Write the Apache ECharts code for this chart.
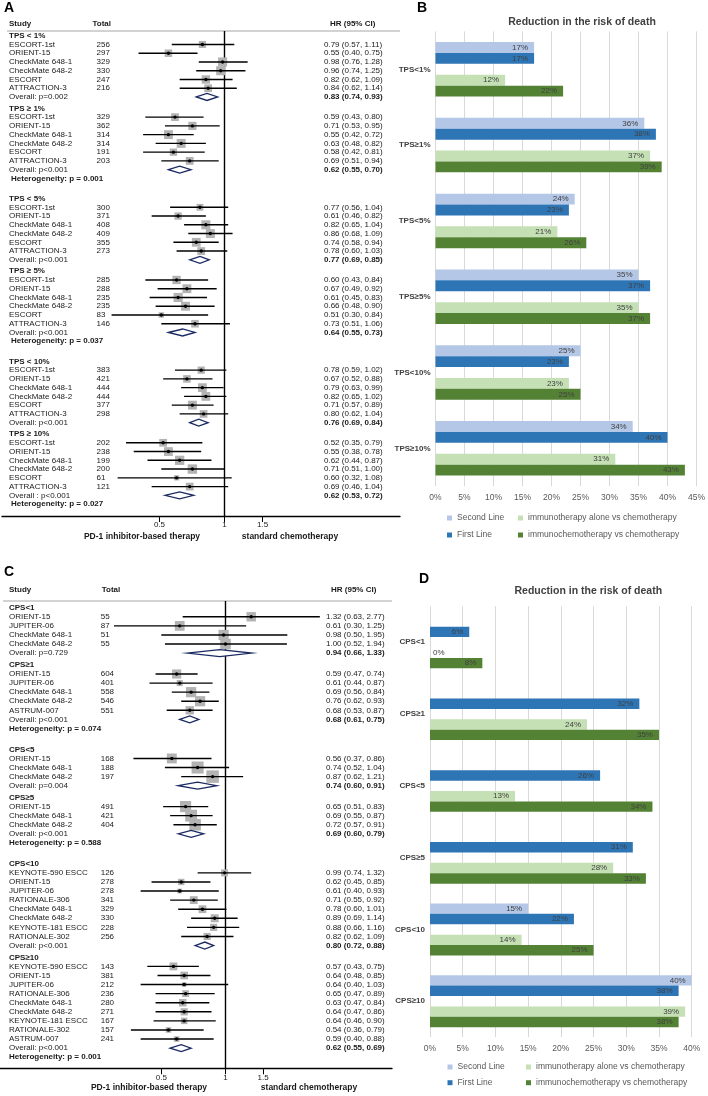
<!DOCTYPE html>
<html><head><meta charset="utf-8">
<script src="https://cdn.jsdelivr.net/npm/echarts@6/dist/echarts.min.js"></script>
<style>html,body{margin:0;padding:0;background:#fff}#c{width:708px;height:1096px}</style>
</head><body><div id="c"></div>
<script>
const FONT = '"Liberation Sans", Arial, sans-serif';

// ===== Panel A (PD-L1 TPS) =====
const aGroups = ['TPS < 1%', 'TPS ≥ 1%', 'TPS < 5%', 'TPS ≥ 5%', 'TPS < 10%', 'TPS ≥ 10%'];
const aNames = ['ESCORT-1st', 'ORIENT-15', 'CheckMate 648-1', 'CheckMate 648-2', 'ESCORT', 'ATTRACTION-3'];
const aTotals = [[256,297,329,330,247,216],[329,362,314,314,191,203],[300,371,408,409,355,273],[285,288,235,235,83,146],[383,421,444,444,377,298],[202,238,199,200,61,121]];
const aHR = [[0.79,0.55,0.98,0.96,0.82,0.84],[0.59,0.71,0.55,0.63,0.58,0.69],[0.77,0.61,0.82,0.86,0.74,0.78],[0.60,0.67,0.61,0.66,0.51,0.73],[0.78,0.67,0.79,0.82,0.71,0.80],[0.52,0.55,0.62,0.71,0.60,0.69]];
const aLo = [[0.57,0.40,0.76,0.74,0.62,0.62],[0.43,0.53,0.42,0.48,0.42,0.51],[0.56,0.46,0.65,0.68,0.58,0.60],[0.43,0.49,0.45,0.48,0.30,0.51],[0.59,0.52,0.63,0.65,0.57,0.62],[0.35,0.38,0.44,0.51,0.32,0.46]];
const aHi = [[1.11,0.75,1.28,1.25,1.09,1.14],[0.80,0.95,0.72,0.82,0.81,0.94],[1.04,0.82,1.04,1.09,0.94,1.03],[0.84,0.92,0.83,0.90,0.84,1.06],[1.02,0.88,0.99,1.02,0.89,1.04],[0.79,0.78,0.87,1.00,1.08,1.04]];
const aOverallHR = [0.83,0.62,0.77,0.64,0.76,0.62];
const aOverallLo = [0.74,0.55,0.69,0.55,0.69,0.53];
const aOverallHi = [0.93,0.70,0.85,0.73,0.84,0.72];
const aOverallP = ['Overall: p=0.002','Overall: p<0.001','Overall: p<0.001','Overall: p<0.001','Overall: p<0.001','Overall : p<0.001'];
const aHet = [null,'0.001',null,'0.037',null,'0.027'];

// ===== Panel C (PD-L1 CPS) =====
const cGroups = ['CPS<1','CPS≥1','CPS<5','CPS≥5','CPS<10','CPS≥10'];
const cNames = [
  ['ORIENT-15','JUPITER-06','CheckMate 648-1','CheckMate 648-2'],
  ['ORIENT-15','JUPITER-06','CheckMate 648-1','CheckMate 648-2','ASTRUM-007'],
  ['ORIENT-15','CheckMate 648-1','CheckMate 648-2'],
  ['ORIENT-15','CheckMate 648-1','CheckMate 648-2'],
  ['KEYNOTE-590 ESCC','ORIENT-15','JUPITER-06','RATIONALE-306','CheckMate 648-1','CheckMate 648-2','KEYNOTE-181 ESCC','RATIONALE-302'],
  ['KEYNOTE-590 ESCC','ORIENT-15','JUPITER-06','RATIONALE-306','CheckMate 648-1','CheckMate 648-2','KEYNOTE-181 ESCC','RATIONALE-302','ASTRUM-007']
];
const cTotals = [[55,87,51,55],[604,401,558,546,551],[168,188,197],[491,421,404],[126,278,278,341,329,330,228,256],[143,381,212,236,280,271,167,157,241]];
const cHR = [[1.32,0.61,0.98,1.00],[0.59,0.61,0.69,0.76,0.68],[0.56,0.74,0.87],[0.65,0.69,0.72],[0.99,0.62,0.61,0.71,0.78,0.89,0.88,0.82],[0.57,0.64,0.64,0.65,0.63,0.64,0.64,0.54,0.59]];
const cLo = [[0.63,0.30,0.50,0.52],[0.47,0.44,0.56,0.62,0.53],[0.37,0.52,0.62],[0.51,0.55,0.57],[0.74,0.45,0.40,0.55,0.60,0.69,0.66,0.62],[0.43,0.48,0.40,0.47,0.47,0.47,0.46,0.36,0.40]];
const cHi = [[2.77,1.25,1.95,1.94],[0.74,0.87,0.84,0.93,0.87],[0.86,1.04,1.21],[0.83,0.87,0.91],[1.32,0.85,0.93,0.92,1.01,1.14,1.16,1.09],[0.75,0.85,1.03,0.89,0.84,0.86,0.90,0.79,0.88]];
const cOverallHR = [0.94,0.68,0.74,0.69,0.80,0.62];
const cOverallLo = [0.66,0.61,0.60,0.60,0.72,0.55];
const cOverallHi = [1.33,0.75,0.91,0.79,0.88,0.69];
const cOverallP = ['Overall: p=0.729','Overall: p<0.001','Overall: p=0.004','Overall: p<0.001','Overall: p<0.001','Overall: p<0.001'];
const cHet = [null,'0.074',null,'0.588',null,'0.001'];

const forestTicks = [0.5, 1, 1.5];
const forestNotes = ['PD-1 inhibitor-based therapy', 'standard chemotherapy'];

// ===== Panel B / D bar charts (reduction in the risk of death, %) =====
const barTitle = 'Reduction in the risk of death';
const barSeriesNames = ['Second Line', 'First Line', 'immunotherapy alone vs chemotherapy', 'immunochemotherapy vs chemotherapy'];
const bCats = ['TPS<1%','TPS≥1%','TPS<5%','TPS≥5%','TPS<10%','TPS≥10%'];
const bSecond = [17,36,24,35,25,34];
const bFirst = [17,38,23,37,23,40];
const bAlone = [12,37,21,35,23,31];
const bCombo = [22,39,26,37,25,43];
const dCats = ['CPS<1','CPS≥1','CPS<5','CPS≥5','CPS<10','CPS≥10'];
const dSecond = [null,null,null,null,15,40];
const dFirst = [6,32,26,31,22,38];
const dAlone = [0,24,13,28,14,39];
const dCombo = [8,35,34,33,25,38];

// ---------- forest helpers ----------
const fmt = v => v.toFixed(2);
function buildRows(groups, names, totals, hr, lo, hi, oHR, oLo, oHi, oP, het) {
  const rows = [{kind: 'frame', y: 0}];
  let y = 0, prev = null;
  groups.forEach((g, gi) => {
    if (gi > 0) y += (prev === 'het' ? 2.3 : 1.3);
    rows.push({kind: 'header', y, text: g});
    const nm = Array.isArray(names[gi]) ? names[gi] : names;
    const w = lo[gi].map((l, i) => { const se = (Math.log(hi[gi][i]) - Math.log(l)) / 3.92; return 1 / (se * se); });
    const ws = w.reduce((a, b) => a + b, 0);
    nm.forEach((s, i) => {
      y += 1;
      rows.push({kind: 'study', y, name: s, total: totals[gi][i], hr: hr[gi][i], lo: lo[gi][i], hi: hi[gi][i], size: 20 * Math.sqrt(w[i] / ws)});
    });
    y += 1;
    rows.push({kind: 'overall', y, text: oP[gi], hr: oHR[gi], lo: oLo[gi], hi: oHi[gi]});
    prev = 'overall';
    if (het[gi]) { y += 1; rows.push({kind: 'het', y, text: 'Heterogeneity: p = ' + het[gi]}); prev = 'het'; }
  });
  return rows;
}
const rowsA = buildRows(aGroups, aNames, aTotals, aHR, aLo, aHi, aOverallHR, aOverallLo, aOverallHi, aOverallP, aHet);
const rowsC = buildRows(cGroups, cNames, cTotals, cHR, cLo, cHi, cOverallHR, cOverallLo, cOverallHi, cOverallP, cHet);

const L_A = {study: 9, total: 96.5, totalHead: 92.5, hr: 324, hrHead: 330, headDy: 7.7, lineStart: 5, het: 11, noteDy: 20.7, noteL: 142, noteR: 290};
const L_C = {study: 9, total: 100.7, totalHead: 101.7, hr: 326, hrHead: 331, headDy: 11, lineStart: 3, het: 9, noteDy: 19.7, noteL: 149, noteR: 309};

function makeRender(rows, L) {
  return function (params, api) {
    const r = rows[api.value(2)];
    const cs = params.coordSys;
    const txt = (text, x, y, opt) => ({type: 'text', silent: true, style: Object.assign({text: String(text), x, y, fill: '#1a1a1a', fontSize: 8, fontFamily: FONT, verticalAlign: 'middle', align: 'left'}, opt || {})});
    const children = [];
    if (r.kind === 'frame') {
      const x1 = api.coord([0, 0])[0];
      children.push({type: 'line', shape: {x1: cs.x + L.lineStart, y1: cs.y, x2: cs.x + cs.width, y2: cs.y}, style: {stroke: '#a6a6a6', lineWidth: 1}});
      children.push({type: 'line', shape: {x1: x1, y1: cs.y, x2: x1, y2: cs.y + cs.height}, style: {stroke: '#000', lineWidth: 1.4}});
      const hy = cs.y - L.headDy;
      children.push(txt('Study', L.study, hy, {fontWeight: 'bold'}));
      children.push(txt('Total', L.totalHead, hy, {fontWeight: 'bold'}));
      children.push(txt('HR (95% CI)', L.hrHead, hy, {fontWeight: 'bold'}));
      const ny = cs.y + cs.height + L.noteDy;
      children.push(txt(forestNotes[0], L.noteL, ny, {fontWeight: 'bold', align: 'center', fontSize: 8.5}));
      children.push(txt(forestNotes[1], L.noteR, ny, {fontWeight: 'bold', align: 'center', fontSize: 8.5}));
      return {type: 'group', children};
    }
    const yp = api.coord([0, r.y])[1];
    const X = v => api.coord([Math.log(v), r.y])[0];
    if (r.kind === 'header') {
      children.push(txt(r.text, L.study, yp, {fontWeight: 'bold'}));
    } else if (r.kind === 'het') {
      children.push(txt(r.text, L.het, yp, {fontWeight: 'bold'}));
    } else if (r.kind === 'study') {
      children.push(txt(r.name, L.study, yp));
      children.push(txt(r.total, L.total, yp));
      children.push(txt(fmt(r.hr) + ' (' + fmt(r.lo) + ', ' + fmt(r.hi) + ')', L.hr, yp));
      const cx = X(r.hr), s = r.size;
      children.push({type: 'rect', shape: {x: cx - s / 2, y: yp - s / 2, width: s, height: s}, style: {fill: '#b3b3b3'}});
      children.push({type: 'line', shape: {x1: X(r.lo), y1: yp, x2: X(r.hi), y2: yp}, style: {stroke: '#000', lineWidth: 1.4}});
      children.push({type: 'circle', shape: {cx: cx, cy: yp, r: 1.7}, style: {fill: '#000'}});
    } else if (r.kind === 'overall') {
      children.push(txt(r.text, L.study, yp));
      children.push(txt(fmt(r.hr) + ' (' + fmt(r.lo) + ', ' + fmt(r.hi) + ')', L.hr, yp, {fontWeight: 'bold'}));
      const h = 3.5;
      children.push({type: 'polygon', shape: {points: [[X(r.lo), yp], [X(r.hr), yp - h], [X(r.hi), yp], [X(r.hr), yp + h]]}, style: {fill: '#fff', stroke: '#1c2a63', lineWidth: 1.3}});
    }
    return {type: 'group', children};
  };
}

function forestXAxis(gi, min, max) {
  return {
    gridIndex: gi, type: 'value', min, max, position: 'bottom',
    axisLine: {show: true, onZero: false, lineStyle: {color: '#000', width: 1.3}},
    axisTick: {show: true, length: 6, customValues: forestTicks.map(Math.log), lineStyle: {color: '#000', width: 1}},
    axisLabel: {show: true, customValues: forestTicks.map(Math.log), formatter: v => String(+Math.exp(v).toFixed(1)), fontSize: 8, color: '#1a1a1a', fontFamily: FONT, margin: 5},
    splitLine: {show: false}
  };
}
function forestYAxis(gi, min, max) {
  return {gridIndex: gi, type: 'value', inverse: true, min, max, show: false, axisLine: {onZero: false}};
}

// ---------- bar helpers ----------
const barColors = ['#b4c7e7', '#2e75b6', '#c5e0b4', '#548235'];
function barSeries(ai, vals, name, color, bw) {
  return {
    type: 'bar', name, xAxisIndex: ai, yAxisIndex: ai, barWidth: bw, barGap: '0%',
    data: vals.map(v => v == null ? '-' : (v === 0 ? {value: 0, label: {position: 'right', distance: 3}} : v)),
    itemStyle: {color},
    label: {show: true, position: 'insideRight', distance: 6, formatter: '{c}%', fontSize: 8, color: '#404040', fontFamily: FONT}
  };
}
function gapSeries(ai, cats, bw) {
  return {type: 'bar', name: 'gap', xAxisIndex: ai, yAxisIndex: ai, barWidth: bw, barGap: '0%', data: cats.map(() => '-'), silent: true};
}
function barXAxis(gi, max) {
  return {
    gridIndex: gi, type: 'value', min: 0, max, interval: 5,
    axisLine: {show: false}, axisTick: {show: false},
    axisLabel: {formatter: '{value}%', fontSize: 8.5, color: '#595959', fontFamily: FONT, margin: 7},
    splitLine: {show: true, lineStyle: {color: '#d9d9d9', width: 1}}
  };
}
function barYAxis(gi, cats) {
  return {
    gridIndex: gi, type: 'category', data: cats, inverse: true,
    axisLine: {show: false}, axisTick: {show: false},
    axisLabel: {fontSize: 8, fontWeight: 'bold', color: '#404040', fontFamily: FONT, margin: 5}
  };
}
function legendOf(items, left, top, gap) {
  return {data: items, orient: 'vertical', left, top, padding: 0, icon: 'rect', itemWidth: 5, itemHeight: 5, itemGap: gap, selectedMode: false,
    textStyle: {fontSize: 8.5, color: '#595959', fontFamily: FONT, lineHeight: 11}};
}

const chart = echarts.init(document.getElementById('c'), null, {renderer: 'canvas', width: 708, height: 1096});
const option = {
  animation: false,
  backgroundColor: '#fff',
  textStyle: {fontFamily: FONT},
  grid: [
    {left: 2, top: 31, width: 398, height: 485},
    {left: 0, top: 601, width: 392, height: 467.3},
    {left: 435.5, top: 31.4, width: 264, height: 454.8},
    {left: 430, top: 606.4, width: 261.7, height: 430.7}
  ],
  xAxis: [
    forestXAxis(0, -2.372, 1.871),
    forestXAxis(1, -2.435, 1.798),
    barXAxis(2, 45),
    barXAxis(3, 40)
  ],
  yAxis: [
    forestYAxis(0, -0.537, 54.86),
    forestYAxis(1, -0.738, 50.72),
    barYAxis(2, bCats),
    barYAxis(3, dCats)
  ],
  legend: [
    legendOf(barSeriesNames.slice(0, 2), 447, 512.5, 6),
    legendOf(barSeriesNames.slice(2, 4), 518, 512.5, 6),
    legendOf(barSeriesNames.slice(0, 2), 447.5, 1061.5, 4.7),
    legendOf(barSeriesNames.slice(2, 4), 526, 1061.5, 4.7)
  ],
  series: [
    {type: 'custom', xAxisIndex: 0, yAxisIndex: 0, clip: false, renderItem: makeRender(rowsA, L_A), data: rowsA.map((r, i) => [0, r.y, i])},
    {type: 'custom', xAxisIndex: 1, yAxisIndex: 1, clip: false, renderItem: makeRender(rowsC, L_C), data: rowsC.map((r, i) => [0, r.y, i])},
    barSeries(2, bSecond, barSeriesNames[0], barColors[0], 10.9),
    barSeries(2, bFirst, barSeriesNames[1], barColors[1], 10.9),
    gapSeries(2, bCats, 10.9),
    barSeries(2, bAlone, barSeriesNames[2], barColors[2], 10.9),
    barSeries(2, bCombo, barSeriesNames[3], barColors[3], 10.9),
    barSeries(3, dSecond, barSeriesNames[0], barColors[0], 10.4),
    barSeries(3, dFirst, barSeriesNames[1], barColors[1], 10.4),
    gapSeries(3, dCats, 10.4),
    barSeries(3, dAlone, barSeriesNames[2], barColors[2], 10.4),
    barSeries(3, dCombo, barSeriesNames[3], barColors[3], 10.4)
  ],
  graphic: [
    {type: 'text', x: 4, y: 8, style: {text: 'A', fontSize: 14, fontWeight: 'bold', fill: '#000', fontFamily: FONT, verticalAlign: 'middle'}},
    {type: 'text', x: 417, y: 8, style: {text: 'B', fontSize: 14, fontWeight: 'bold', fill: '#000', fontFamily: FONT, verticalAlign: 'middle'}},
    {type: 'text', x: 4, y: 572, style: {text: 'C', fontSize: 14, fontWeight: 'bold', fill: '#000', fontFamily: FONT, verticalAlign: 'middle'}},
    {type: 'text', x: 419, y: 579, style: {text: 'D', fontSize: 14, fontWeight: 'bold', fill: '#000', fontFamily: FONT, verticalAlign: 'middle'}},
    {type: 'text', x: 582, y: 21.7, style: {text: barTitle, fontSize: 10.5, fontWeight: 'bold', fill: '#404040', fontFamily: FONT, align: 'center', verticalAlign: 'middle'}},
    {type: 'text', x: 588.3, y: 591, style: {text: barTitle, fontSize: 10.5, fontWeight: 'bold', fill: '#404040', fontFamily: FONT, align: 'center', verticalAlign: 'middle'}}
  ]
};
chart.setOption(option);
</script>
</body></html>
